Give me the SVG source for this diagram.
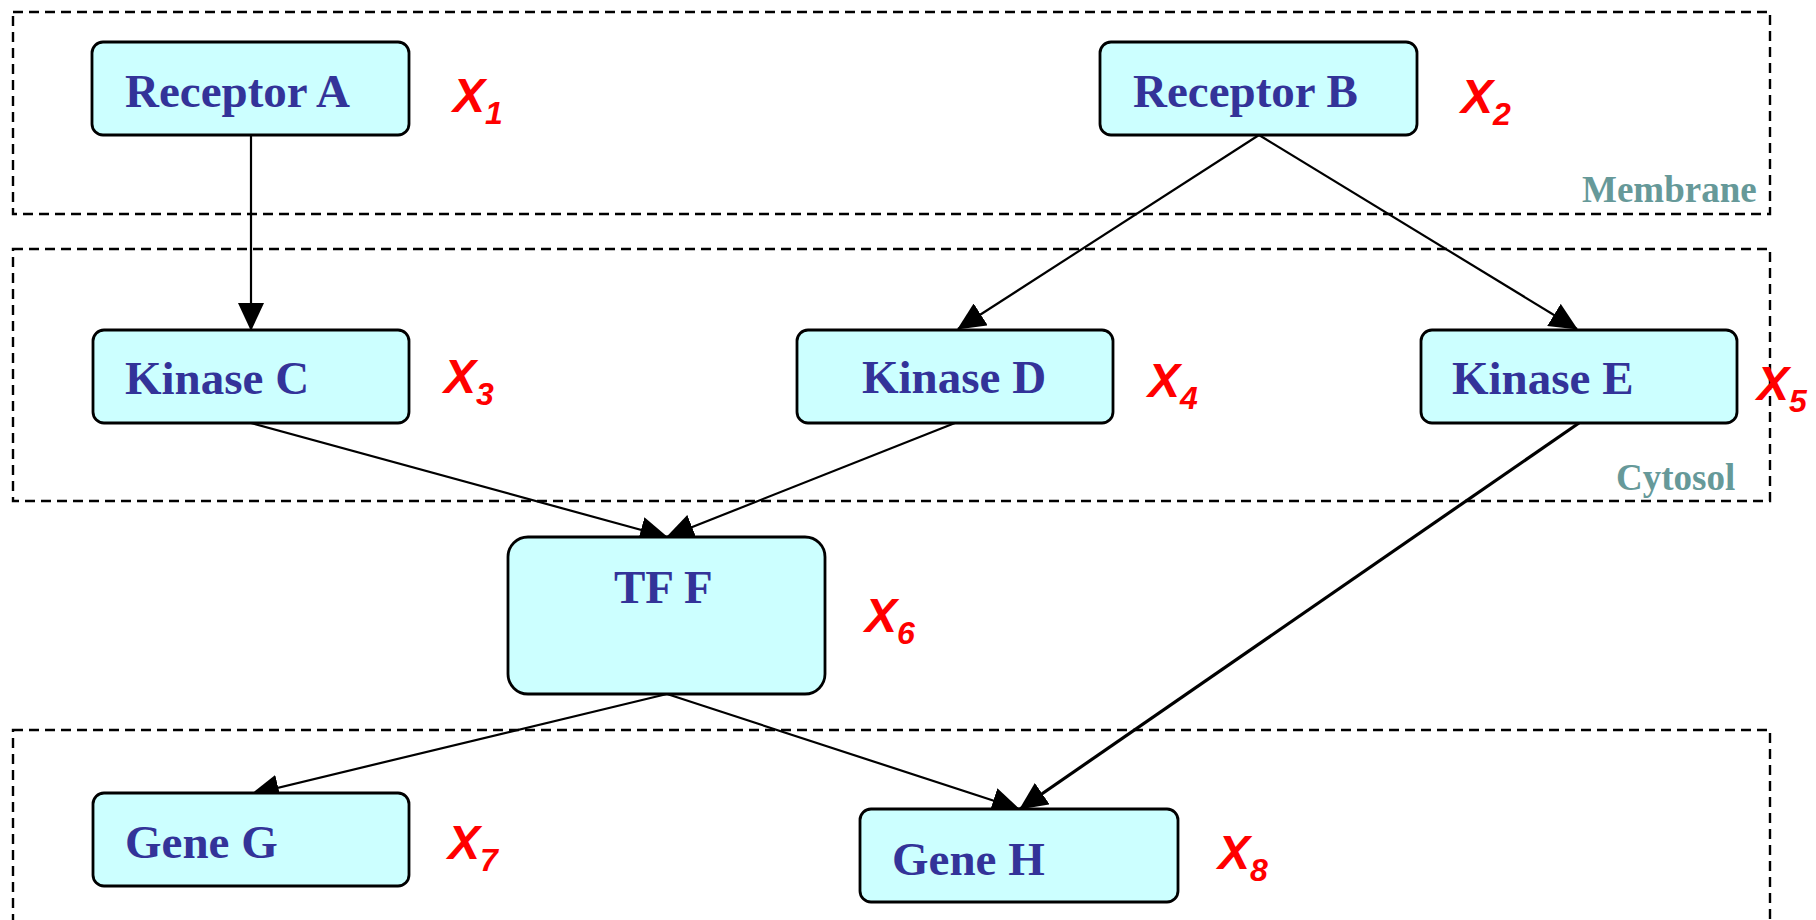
<svg xmlns="http://www.w3.org/2000/svg" width="1816" height="920" viewBox="0 0 1816 920">
  <defs>
    <marker id="arr" markerUnits="userSpaceOnUse" markerWidth="28" markerHeight="26" viewBox="0 0 28 26" refX="27" refY="13" orient="auto">
      <path d="M0,0 L28,13 L0,26 Z" fill="#000"/>
    </marker>
    <style>
      .zone { fill: none; stroke: #000; stroke-width: 2.4; stroke-dasharray: 10 6; }
      .zlabel { font-family: "Liberation Serif", "Times New Roman", serif; font-weight: bold; font-size: 37px; fill: #669999; }
      .box { fill: #CCFFFF; stroke: #000; stroke-width: 2.8; }
      .lbl { font-family: "Liberation Serif", "Times New Roman", serif; font-weight: bold; font-size: 47px; fill: #333399; }
      .var { font-family: "Liberation Sans", Arial, sans-serif; font-weight: bold; font-style: italic; font-size: 48px; fill: #FF0000; }
      .sub { font-size: 32px; }
      .edge { fill: none; stroke: #000; stroke-width: 2.2; marker-end: url(#arr); }
      .thick { stroke-width: 3.2; }
    </style>
  </defs>

  <g id="compartments">
    <rect class="zone" x="13" y="12" width="1757" height="202"/>
    <text class="zlabel" x="1582" y="202">Membrane</text>
    <rect class="zone" x="13" y="249" width="1757" height="252"/>
    <text class="zlabel" x="1616" y="490">Cytosol</text>
    <rect class="zone" x="13" y="730" width="1757" height="220"/>
  </g>

  <g id="connectors">
    <line class="edge" x1="251" y1="135" x2="251" y2="330"/>
    <line class="edge" x1="1259" y1="135" x2="958" y2="329"/>
    <line class="edge" x1="1259" y1="135" x2="1577" y2="329"/>
    <line class="edge" x1="251" y1="423" x2="667" y2="537"/>
    <line class="edge" x1="955" y1="423" x2="667" y2="537"/>
    <line class="edge thick" x1="1579" y1="423" x2="1020" y2="809"/>
    <line class="edge" x1="667" y1="694" x2="252" y2="794"/>
    <line class="edge" x1="667" y1="694" x2="1019" y2="809"/>
  </g>

  <g id="receptorA">
    <rect class="box" x="92" y="42" width="317" height="93" rx="11"/>
    <text class="lbl" x="125" y="107">Receptor A</text>
    <text class="var" x="453" y="112">X<tspan class="sub" dy="12">1</tspan></text>
  </g>
  <g id="receptorB">
    <rect class="box" x="1100" y="42" width="317" height="93" rx="11"/>
    <text class="lbl" x="1133" y="107">Receptor B</text>
    <text class="var" x="1461" y="113">X<tspan class="sub" dy="12">2</tspan></text>
  </g>
  <g id="kinaseC">
    <rect class="box" x="93" y="330" width="316" height="93" rx="11"/>
    <text class="lbl" x="125" y="394">Kinase C</text>
    <text class="var" x="444" y="393">X<tspan class="sub" dy="12">3</tspan></text>
  </g>
  <g id="kinaseD">
    <rect class="box" x="797" y="330" width="316" height="93" rx="11"/>
    <text class="lbl" x="862" y="393">Kinase D</text>
    <text class="var" x="1148" y="397">X<tspan class="sub" dy="12">4</tspan></text>
  </g>
  <g id="kinaseE">
    <rect class="box" x="1421" y="330" width="316" height="93" rx="11"/>
    <text class="lbl" x="1452" y="394">Kinase E</text>
    <text class="var" x="1757" y="400">X<tspan class="sub" dy="12">5</tspan></text>
  </g>
  <g id="tfF">
    <rect class="box" x="508" y="537" width="317" height="157" rx="20"/>
    <text class="lbl" x="614" y="603">TF F</text>
    <text class="var" x="865" y="632">X<tspan class="sub" dy="12">6</tspan></text>
  </g>
  <g id="geneG">
    <rect class="box" x="93" y="793" width="316" height="93" rx="11"/>
    <text class="lbl" x="125" y="858">Gene G</text>
    <text class="var" x="448" y="859">X<tspan class="sub" dy="12">7</tspan></text>
  </g>
  <g id="geneH">
    <rect class="box" x="860" y="809" width="318" height="93" rx="11"/>
    <text class="lbl" x="892" y="875">Gene H</text>
    <text class="var" x="1218" y="869">X<tspan class="sub" dy="12">8</tspan></text>
  </g>
</svg>
